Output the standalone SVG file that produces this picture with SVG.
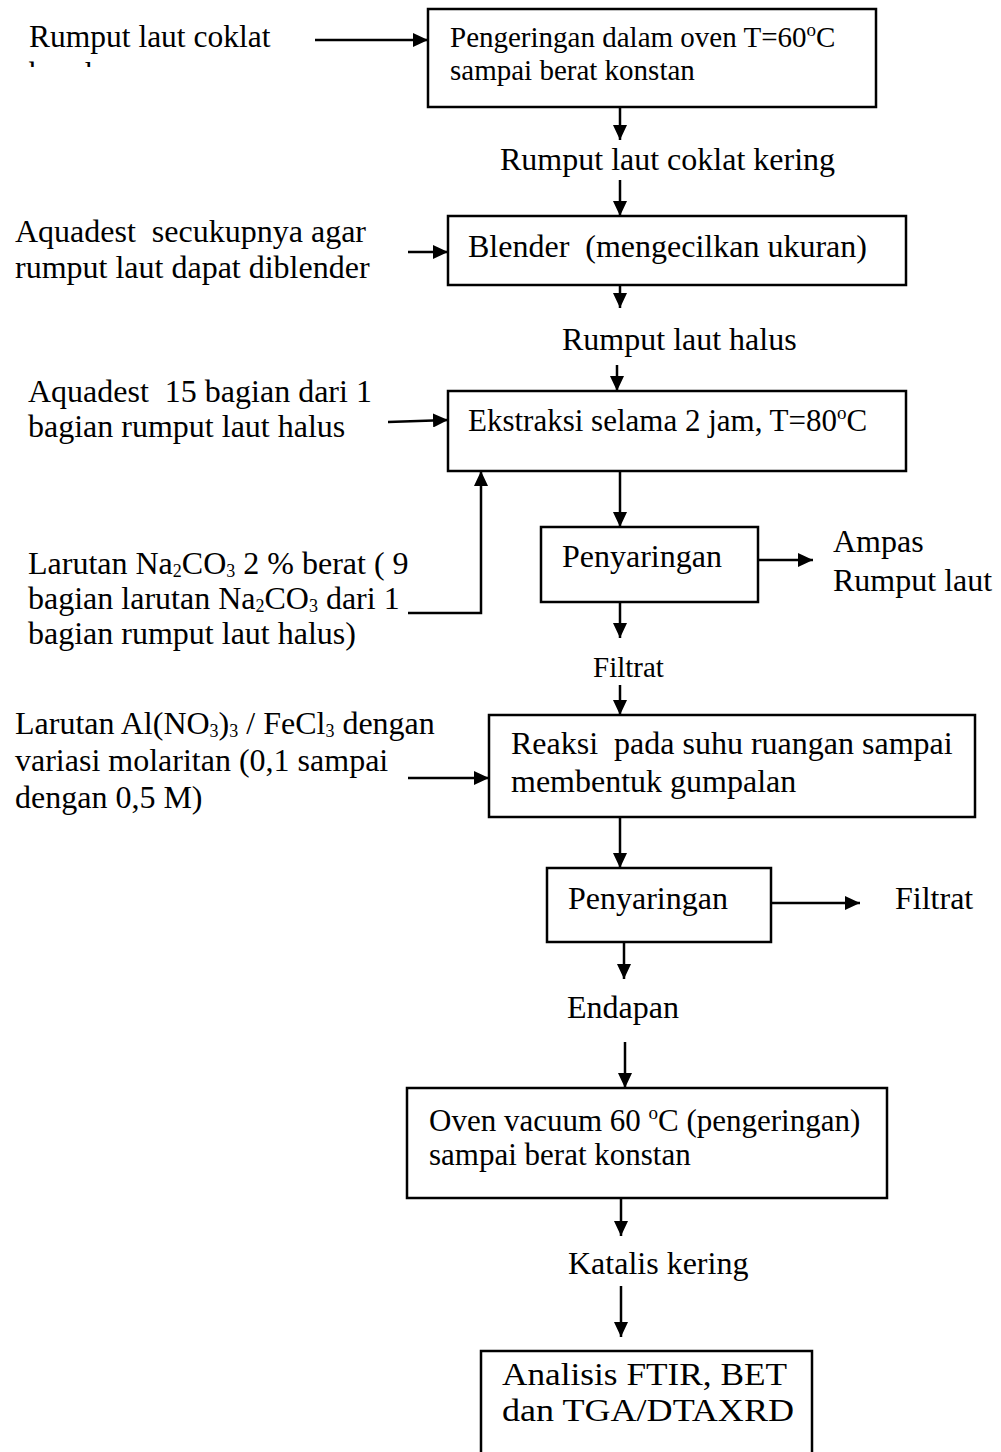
<svg xmlns="http://www.w3.org/2000/svg" width="1001" height="1452" viewBox="0 0 1001 1452" xml:space="preserve">
  <style>
    text { font-family: "Liberation Serif", "Times New Roman", serif; font-size: 32px; fill: #000; white-space: pre; }
    .box { fill: #fff; stroke: #000; stroke-width: 2.5; }
    .wire { fill: none; stroke: #000; stroke-width: 2.5; }
    .sm { font-size: 29px; }
    .md { font-size: 31px; }
    .sub { font-size: 18px; }
    .sup { font-size: 19px; }
  </style>
  <defs>
    <marker id="arrow" markerUnits="userSpaceOnUse" markerWidth="16" markerHeight="14" refX="15" refY="7" orient="auto">
      <path d="M0,0 L15,7 L0,14 Z" fill="#000"/>
    </marker>
    <clipPath id="cut-line">
      <rect x="0" y="0" width="300" height="67"/>
    </clipPath>
  </defs>

  <rect width="1001" height="1452" fill="#fff"/>

  <!-- connectors -->
  <g id="connectors" class="wire" marker-end="url(#arrow)">
    <line x1="315" y1="40" x2="428" y2="40"/>
    <line x1="620" y1="107" x2="620" y2="140"/>
    <line x1="620" y1="180" x2="620" y2="216"/>
    <line x1="408" y1="252" x2="448" y2="252"/>
    <line x1="620" y1="285" x2="620" y2="308"/>
    <line x1="617" y1="365" x2="617" y2="391"/>
    <line x1="388" y1="422" x2="448" y2="420"/>
    <polyline points="408,613 481,613 481,471"/>
    <line x1="620" y1="471" x2="620" y2="527"/>
    <line x1="758" y1="560" x2="813" y2="560"/>
    <line x1="620" y1="602" x2="620" y2="638"/>
    <line x1="620" y1="685" x2="620" y2="715"/>
    <line x1="408" y1="778" x2="489" y2="778"/>
    <line x1="620" y1="817" x2="620" y2="868"/>
    <line x1="771" y1="903" x2="860" y2="903"/>
    <line x1="624" y1="942" x2="624" y2="979"/>
    <line x1="625" y1="1042" x2="625" y2="1088"/>
    <line x1="621" y1="1198" x2="621" y2="1236"/>
    <line x1="621" y1="1286" x2="621" y2="1337"/>
  </g>

  <!-- inputs and intermediate products -->
  <g id="input-raw">
    <text x="29" y="47" style="font-size:31.5px">Rumput laut coklat</text>
    <text x="29" y="84" style="font-size:31.5px" clip-path="url(#cut-line)">basah</text>
  </g>
  <g id="label-dry">
    <text x="500" y="170">Rumput laut coklat kering</text>
  </g>
  <g id="input-water-blend">
    <text x="15" y="242">Aquadest  secukupnya agar</text>
    <text x="15" y="278">rumput laut dapat diblender</text>
  </g>
  <g id="label-fine">
    <text x="562" y="350">Rumput laut halus</text>
  </g>
  <g id="input-water-extract">
    <text x="28" y="402">Aquadest  15 bagian dari 1</text>
    <text x="28" y="437">bagian rumput laut halus</text>
  </g>
  <g id="input-carbonate">
    <text x="28" y="574">Larutan Na<tspan class="sub" dy="3">2</tspan><tspan dy="-3">CO</tspan><tspan class="sub" dy="3">3</tspan><tspan dy="-3"> 2 % berat ( 9</tspan></text>
    <text x="28" y="609">bagian larutan Na<tspan class="sub" dy="3">2</tspan><tspan dy="-3">CO</tspan><tspan class="sub" dy="3">3</tspan><tspan dy="-3"> dari 1</tspan></text>
    <text x="28" y="644">bagian rumput laut halus)</text>
  </g>
  <g id="output-residue">
    <text x="833" y="552">Ampas</text>
    <text x="833" y="591">Rumput laut</text>
  </g>
  <g id="label-filtrate-1">
    <text class="sm" x="593" y="677">Filtrat</text>
  </g>
  <g id="input-metal-salt">
    <text x="15" y="734">Larutan Al(NO<tspan class="sub" dy="3">3</tspan><tspan dy="-3">)</tspan><tspan class="sub" dy="3">3</tspan><tspan dy="-3"> / FeCl</tspan><tspan class="sub" dy="3">3</tspan><tspan dy="-3"> dengan</tspan></text>
    <text x="15" y="771">variasi molaritan (0,1 sampai</text>
    <text x="15" y="808">dengan 0,5 M)</text>
  </g>
  <g id="output-filtrate-2">
    <text x="895" y="909">Filtrat</text>
  </g>
  <g id="label-precipitate">
    <text x="567" y="1018">Endapan</text>
  </g>
  <g id="label-catalyst">
    <text x="568" y="1274">Katalis kering</text>
  </g>

  <!-- process steps -->
  <g id="step-drying">
    <rect class="box" x="428" y="9" width="448" height="98"/>
    <text class="sm" x="450" y="47">Pengeringan dalam oven T=60<tspan class="sup" dy="-11">o</tspan><tspan dy="11">C</tspan></text>
    <text class="sm" x="450" y="80">sampai berat konstan</text>
  </g>
  <g id="step-blender">
    <rect class="box" x="448" y="216" width="458" height="69"/>
    <text x="468" y="257">Blender  (mengecilkan ukuran)</text>
  </g>
  <g id="step-extraction">
    <rect class="box" x="448" y="391" width="458" height="80"/>
    <text class="md" x="468" y="431">Ekstraksi selama 2 jam, T=80<tspan class="sup" dy="-12">o</tspan><tspan dy="12">C</tspan></text>
  </g>
  <g id="step-filter-1">
    <rect class="box" x="541" y="527" width="217" height="75"/>
    <text x="562" y="567">Penyaringan</text>
  </g>
  <g id="step-reaction">
    <rect class="box" x="489" y="715" width="486" height="102"/>
    <text x="511" y="754">Reaksi  pada suhu ruangan sampai</text>
    <text x="511" y="792">membentuk gumpalan</text>
  </g>
  <g id="step-filter-2">
    <rect class="box" x="547" y="868" width="224" height="74"/>
    <text x="568" y="909">Penyaringan</text>
  </g>
  <g id="step-vacuum-oven">
    <rect class="box" x="407" y="1088" width="480" height="110"/>
    <text class="md" x="429" y="1131">Oven vacuum 60 <tspan class="sup" dy="-12">o</tspan><tspan dy="12">C (pengeringan)</tspan></text>
    <text class="md" x="429" y="1165">sampai berat konstan</text>
  </g>
  <g id="step-analysis">
    <rect class="box" x="481" y="1351" width="331" height="110"/>
    <text x="502" y="1385" textLength="285" lengthAdjust="spacingAndGlyphs">Analisis FTIR, BET</text>
    <text x="502" y="1421" textLength="292" lengthAdjust="spacingAndGlyphs">dan TGA/DTAXRD</text>
  </g>
</svg>
